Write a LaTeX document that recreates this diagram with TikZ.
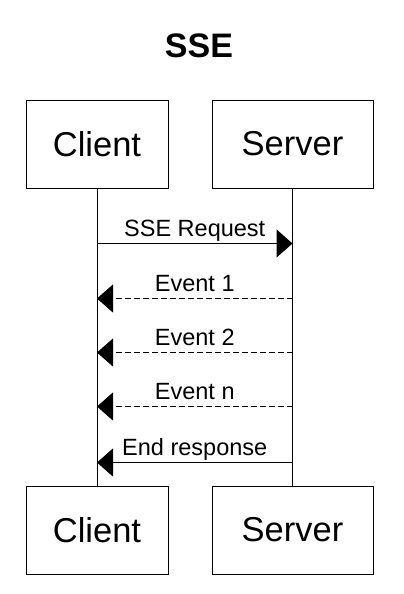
\documentclass[tikz,border=0pt]{standalone}
\usepackage{fontspec}
\setmainfont{Liberation Sans}
\usetikzlibrary{arrows.meta,positioning}

\begin{document}
\begin{tikzpicture}[x=1pt, y=-1pt, node distance=297pt and 43pt]
\tikzset{actor/.style={draw, line width=1pt, minimum height=88pt, inner sep=0pt, font=\fontsize{34.5}{40}\selectfont}}
\tikzset{lifeline/.style={line width=1pt}}
\tikzset{msg/.style={line width=1pt, -{Triangle[length=16pt, width=28pt]}}}
\tikzset{reply/.style={msg, dash pattern=on 6pt off 3pt}}
\tikzset{msglabel/.style={anchor=base, yshift=7pt, font=\fontsize{23.5}{28}\selectfont}}
\useasboundingbox (0,0) rectangle (404,594);
\node[font=\bfseries\fontsize{34}{40}\selectfont, anchor=base] (title) at (199,58) {SSE};
\node[actor, minimum width=142pt] (clienttop) at (97,144) {Client};
\node[actor, minimum width=161pt, right=43pt of clienttop] (servertop) {Server};
\node[actor, minimum width=142pt, below=of clienttop] (clientbot) {Client};
\node[actor, minimum width=161pt, below=of servertop] (serverbot) {Server};
\draw[lifeline] (clienttop) -- (clientbot);
\draw[lifeline] (servertop) -- (serverbot);
% message points on the lifelines
\path (clienttop.south) ++(0,55) coordinate (c1) ++(0,55) coordinate (c2) ++(0,54) coordinate (c3) ++(0,54) coordinate (c4) ++(0,56) coordinate (c5);
\path (servertop.south) ++(0,55) coordinate (s1) ++(0,55) coordinate (s2) ++(0,54) coordinate (s3) ++(0,54) coordinate (s4) ++(0,56) coordinate (s5);
\draw[msg] (c1) -- node[msglabel] {SSE Request} (s1);
\draw[reply] (s2) -- node[msglabel] {Event 1} (c2);
\draw[reply] (s3) -- node[msglabel] {Event 2} (c3);
\draw[reply] (s4) -- node[msglabel] {Event n} (c4);
\draw[msg] (s5) -- node[msglabel] {End response} (c5);
\end{tikzpicture}
\end{document}
